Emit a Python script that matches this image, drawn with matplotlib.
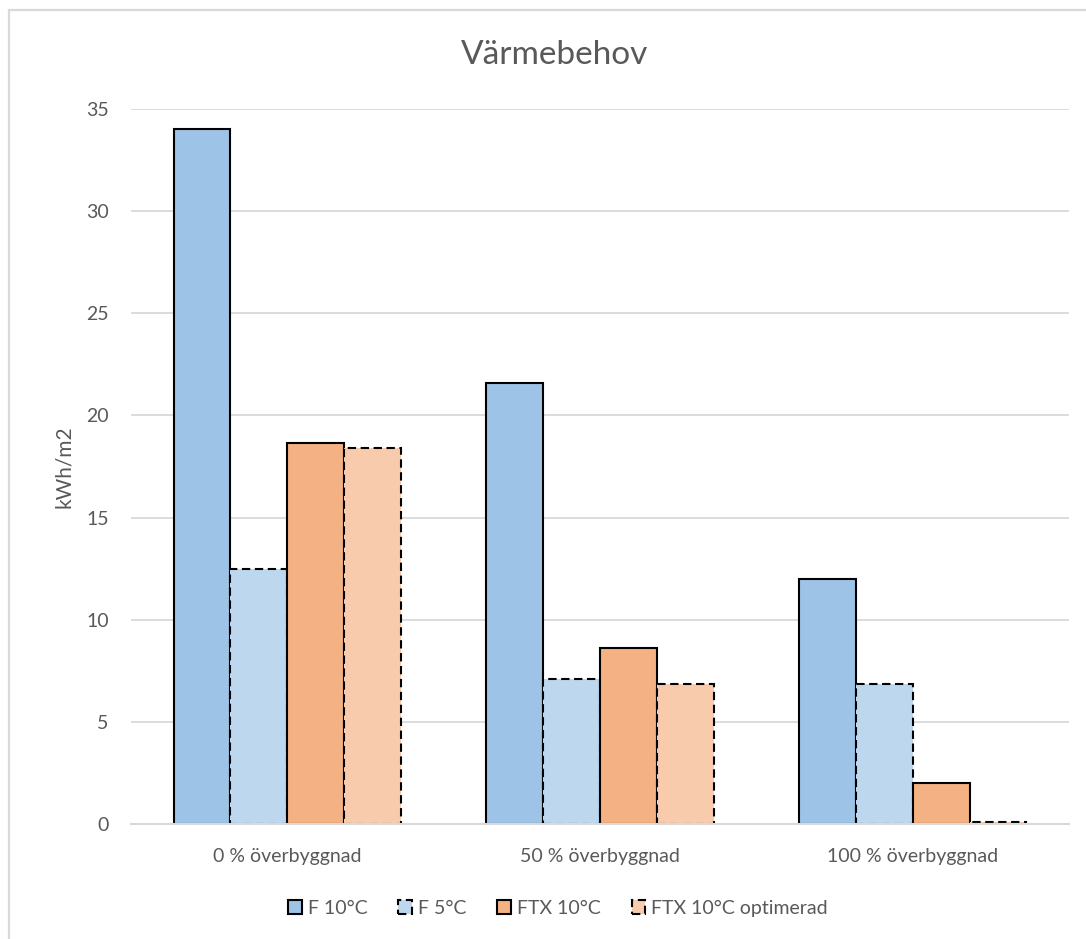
import matplotlib
matplotlib.use("Agg")
import matplotlib.pyplot as plt
import numpy as np
from matplotlib.patches import Patch, Rectangle

plt.rcParams['font.family'] = ['Lato', 'DejaVu Sans']

categories = ["0 % överbyggnad", "50 % överbyggnad", "100 % överbyggnad"]
series_names = ["F 10°C", "F 5°C", "FTX 10°C", "FTX 10°C optimerad"]
f10 = [34.0, 21.6, 12.0]
f5 = [12.5, 7.1, 6.85]
ftx10 = [18.65, 8.6, 2.0]
ftx10_opt = [18.4, 6.85, 0.1]
yticks = [0, 5, 10, 15, 20, 25, 30, 35]

series = [f10, f5, ftx10, ftx10_opt]
colors = ["#9dc3e6", "#bdd7ee", "#f4b183", "#f8cbad"]
styles = ["solid", (0, (4, 2.2)), "solid", (0, (4, 2.2))]
text_col = "#595959"
grid_col = "#d9d9d9"

W, H = 1086, 939
fig = plt.figure(figsize=(W / 100, H / 100), dpi=100)
fig.patch.set_facecolor("white")

# chart-area frame (open at the right and bottom)
fig.add_artist(Rectangle((9 / W, -0.1), 1.2, 1.1 - 10 / H,
                         transform=fig.transFigure, fill=False,
                         edgecolor="#d9d9d9", lw=1.6))

ax = fig.add_axes([131 / W, (H - 824) / H, (1069 - 131) / W, (824 - 109) / H])
x = np.arange(len(categories))
bw = 0.182
offsets = (np.arange(4) - 1.5) * bw
for i, (vals, c, ls) in enumerate(zip(series, colors, styles)):
    ax.bar(x + offsets[i], vals, width=bw, color=c, edgecolor="black",
           linewidth=1.5, linestyle=ls, zorder=2 + i * 0.1)

ax.set_xlim(-0.5, len(categories) - 0.5)
ax.set_ylim(0, 35)
ax.set_yticks(yticks)
ax.set_xticks(x)
ax.set_xticklabels(categories)
ax.tick_params(axis="both", length=0, labelsize=14, colors=text_col)
ax.tick_params(axis="y", pad=16)
ax.tick_params(axis="x", pad=17)
ax.yaxis.grid(True, color=grid_col, lw=1.3, zorder=0)
ax.set_axisbelow(True)
for s in ["top", "right", "left"]:
    ax.spines[s].set_visible(False)
ax.spines["bottom"].set_color(grid_col)
ax.spines["bottom"].set_linewidth(1.5)
ax.spines["bottom"].set_zorder(5)

ax.set_ylabel("kWh/m2", fontsize=15, color=text_col, labelpad=9)
fig.text(555 / W, 1 - 55 / H, "Värmebehov", fontsize=24, color=text_col,
         ha="center", va="center")

handles = [Patch(facecolor=c, edgecolor="black", linewidth=1.5, linestyle=ls)
           for c, ls in zip(colors, styles)]
fig.legend(handles, series_names, loc="center", bbox_to_anchor=(558 / W, 1 - 908 / H),
           ncol=4, frameon=False, fontsize=14, labelcolor=text_col,
           handlelength=0.7, handleheight=0.7, handletextpad=0.3, columnspacing=1.6)

fig.savefig("out.png", dpi=100, facecolor="white")
